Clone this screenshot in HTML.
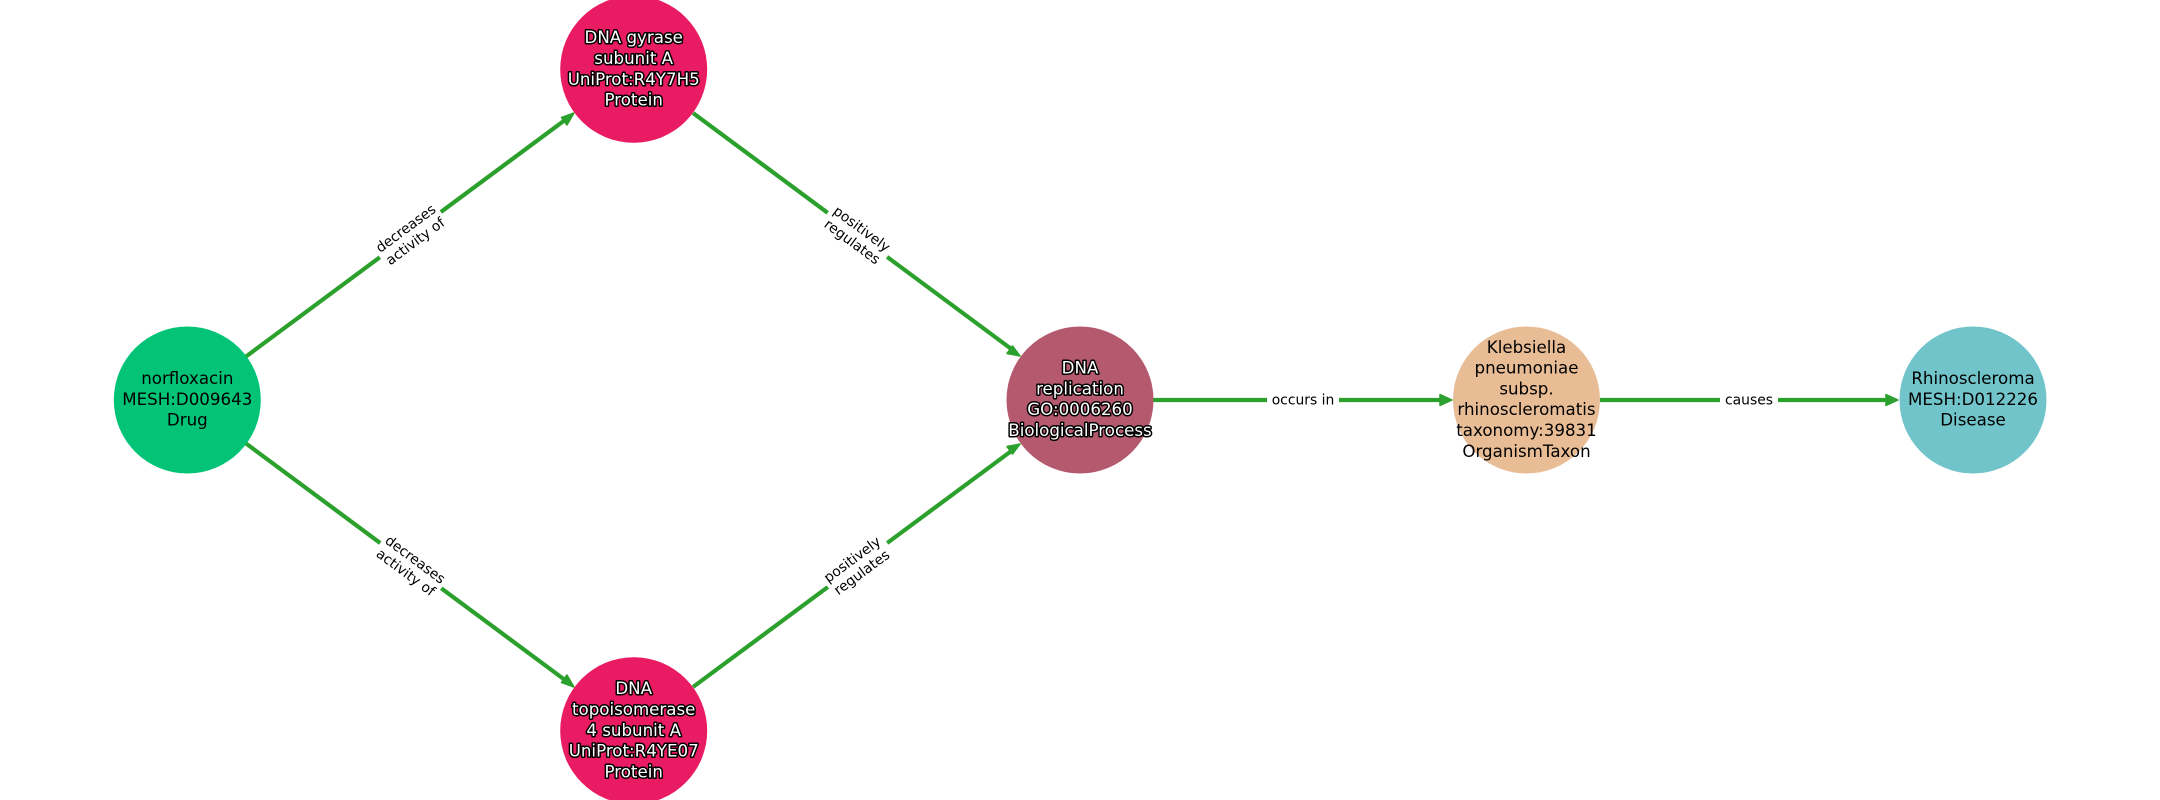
<!DOCTYPE html>
<html><head><meta charset="utf-8"><style>
html,body{margin:0;padding:0;background:#fff;width:2160px;height:800px;overflow:hidden}
svg{display:block}
text{font-family:"DejaVu Sans",sans-serif;text-anchor:middle;fill:#000}
.n{font-size:16.67px}
.h{fill:#fff;stroke:#000;stroke-width:3px;paint-order:stroke;stroke-linejoin:round}
.e{font-size:13.9px}
line{stroke:#2ca02c;stroke-width:4.2}
.a{fill:#2ca02c;stroke:#2ca02c;stroke-width:1.5;stroke-linejoin:round}
</style></head><body>
<svg width="2160" height="800" viewBox="0 0 2160 800" xmlns="http://www.w3.org/2000/svg">
<line x1="246" y1="356.500" x2="565" y2="120"/>
<polygon class="a" points="574,113 561.500,117.500 567,125"/>
<line x1="693" y1="113" x2="1012" y2="349.500"/>
<polygon class="a" points="1020,356 1012.500,346 1007,353.500"/>
<line x1="246" y1="443.500" x2="565" y2="680"/>
<polygon class="a" points="574,687 567,675 561.500,682.500"/>
<line x1="693" y1="687" x2="1012" y2="450.500"/>
<polygon class="a" points="1020,444 1007,446.500 1012.500,454"/>
<line x1="1153" y1="400" x2="1442" y2="400"/>
<polygon class="a" points="1452,400 1440,394.500 1440,405.500"/>
<line x1="1600" y1="400" x2="1889" y2="400"/>
<polygon class="a" points="1898,400 1886,394.500 1886,405.500"/>

<g transform="translate(410,234.200) rotate(-36.500)"><rect x="-38" y="-20" width="76" height="40" fill="#fff"/><text class="e" y="-2.500">decreases</text><text class="e" y="13.500">activity of</text></g>
<g transform="translate(857.500,234.700) rotate(36.500)"><rect x="-37" y="-20" width="74" height="40" fill="#fff"/><text class="e" y="-2.500">positively</text><text class="e" y="13.500">regulates</text></g>
<g transform="translate(411,565.300) rotate(36.500)"><rect x="-38" y="-20" width="76" height="40" fill="#fff"/><text class="e" y="-2.500">decreases</text><text class="e" y="13.500">activity of</text></g>
<g transform="translate(856.500,565.300) rotate(-36.500)"><rect x="-36" y="-20" width="74" height="40" fill="#fff"/><text class="e" y="-2.500">positively</text><text class="e" y="13.500">regulates</text></g>
<rect x="1267" y="385" width="72" height="30" fill="#fff"/><text class="e" x="1303" y="404.500">occurs in</text>
<rect x="1720" y="385" width="58" height="30" fill="#fff"/><text class="e" x="1749" y="404.500">causes</text>

<circle cx="187.300" cy="400" r="73.500" fill="#02c376"/>
<circle cx="633.700" cy="69.300" r="73.500" fill="#e91b63"/>
<circle cx="633.700" cy="730.700" r="73.500" fill="#e91b63"/>
<circle cx="1080" cy="400" r="73.500" fill="#b5596f"/>
<circle cx="1526.500" cy="400" r="73.500" fill="#e8bd96"/>
<circle cx="1973" cy="400" r="73.500" fill="#71c5ca"/>

<g class="n">
<text x="187.300" y="384">norfloxacin</text><text x="187.300" y="404.800">MESH:D009643</text><text x="187.300" y="425.600">Drug</text>
<text class="h" x="633.700" y="43.200">DNA gyrase</text><text class="h" x="633.700" y="64">subunit A</text><text class="h" x="633.700" y="84.800">UniProt:R4Y7H5</text><text class="h" x="633.700" y="105.600">Protein</text>
<text class="h" x="633.700" y="694.200">DNA</text><text class="h" x="633.700" y="715">topoisomerase</text><text class="h" x="633.700" y="735.800">4 subunit A</text><text class="h" x="633.700" y="756.600">UniProt:R4YE07</text><text class="h" x="633.700" y="777.400">Protein</text>
<text class="h" x="1080" y="373.600">DNA</text><text class="h" x="1080" y="394.400">replication</text><text class="h" x="1080" y="415.200">GO:0006260</text><text class="h" x="1080" y="436">BiologicalProcess</text>
<text x="1526.500" y="352.800">Klebsiella</text><text x="1526.500" y="373.600">pneumoniae</text><text x="1526.500" y="394.400">subsp.</text><text x="1526.500" y="415.200">rhinoscleromatis</text><text x="1526.500" y="436">taxonomy:39831</text><text x="1526.500" y="456.800">OrganismTaxon</text>
<text x="1973" y="384">Rhinoscleroma</text><text x="1973" y="404.800">MESH:D012226</text><text x="1973" y="425.600">Disease</text>
</g>
</svg>
</body></html>
